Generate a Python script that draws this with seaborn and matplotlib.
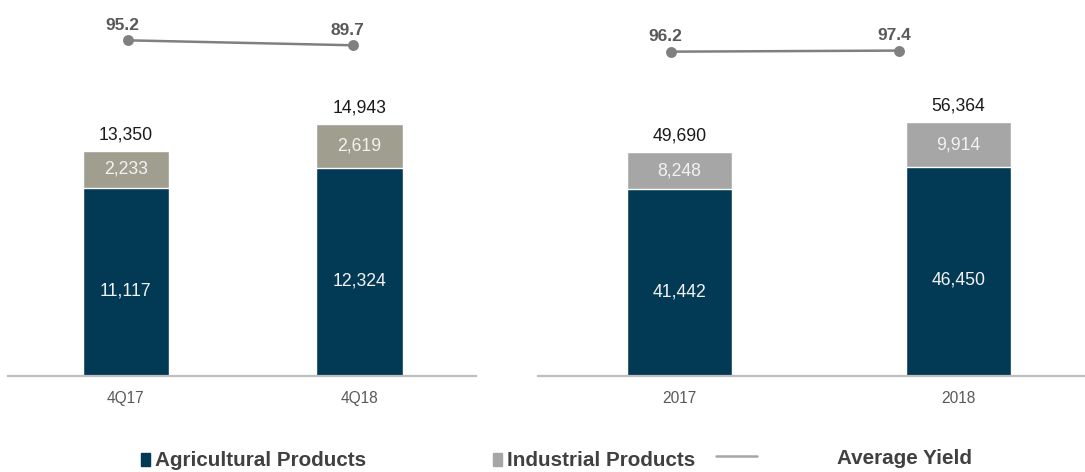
import matplotlib
matplotlib.use("Agg")
import matplotlib.pyplot as plt
import seaborn as sns
import pandas as pd
from matplotlib.patches import Patch
from matplotlib.lines import Line2D

sns.set_theme(style="white")
plt.rcParams['font.family'] = ['Liberation Sans', 'DejaVu Sans']

# ---- data ----
quarters = ["4Q17", "4Q18"]
quarter_agri = [11117, 12324]
quarter_ind = [2233, 2619]
quarter_yield = [95.2, 89.7]

years = ["2017", "2018"]
year_agri = [41442, 46450]
year_ind = [8248, 9914]
year_yield = [96.2, 97.4]

AGRI = "#023a55"
IND_L = "#a09e8f"
IND_R = "#a6a6a6"
LINE_C = "#808080"
TXT = "#595959"

W, H = 1085, 472
fig = plt.figure(figsize=(W / 100, H / 100), dpi=100)


def fx(px):
    return px / W


def fy(px):
    return 1 - px / H


def panel(bar_rect, xlim, ylim_top, cats, agri, ind, ind_color, width,
          line_rect, yl, ylim_line):
    ax = fig.add_axes(bar_rect)
    totals = [a + b for a, b in zip(agri, ind)]
    df = pd.DataFrame({"cat": cats, "agri": agri, "total": totals, "ind": ind})
    sns.barplot(data=df, x="cat", y="total", color=ind_color, width=width,
                saturation=1, ax=ax, order=cats)
    sns.barplot(data=df, x="cat", y="agri", color=AGRI, width=width,
                saturation=1, ax=ax, order=cats)
    ax.set_xlim(*xlim)
    ax.set_ylim(0, ylim_top)
    ax.set_xlabel("")
    ax.set_ylabel("")
    ax.set_yticks([])
    for s in ["left", "right", "top"]:
        ax.spines[s].set_visible(False)
    ax.spines["bottom"].set_color("#bfbfbf")
    ax.spines["bottom"].set_linewidth(1.6)
    ax.tick_params(axis="x", length=0, pad=11, labelsize=11.2, labelcolor=TXT)
    ax.patch.set_alpha(0)
    for i, (a, b, t) in enumerate(zip(agri, ind, totals)):
        ax.annotate(f"{t:,}", (i, t), xytext=(0, 16), textcoords="offset pixels",
                    ha="center", va="center", fontsize=12.7, color="#1a1a1a")
        ax.annotate(f"{b:,}", (i, a + b / 2), xytext=(0, 0), textcoords="offset pixels",
                    ha="center", va="center", fontsize=12.7, color="#f2f2f2")
        ax.annotate(f"{a:,}", (i, a / 2), xytext=(0, -9), textcoords="offset pixels",
                    ha="center", va="center", fontsize=12.7, color="#f2f2f2")

    lax = fig.add_axes(line_rect)
    ldf = pd.DataFrame({"cat": cats, "y": yl})
    sns.pointplot(data=ldf, x="cat", y="y", order=cats, color=LINE_C, ax=lax,
                  markers="o", markersize=6.5, linewidth=1.8)
    lax.set_xlim(-0.5, 1.5)
    lax.set_ylim(*ylim_line)
    lax.axis("off")
    lax.patch.set_alpha(0)
    for i, v in enumerate(yl):
        lax.annotate(f"{v}", (i, v), xytext=(-5, 15), textcoords="offset pixels",
                     ha="center", va="center", fontsize=12.5, fontweight="bold",
                     color=TXT)


# left panel
panel([fx(8.3), fy(376), fx(476 - 8.3), 376 / H], (-0.504, 1.50), 22275,
      quarters, quarter_agri, quarter_ind, IND_L, 0.371,
      [fx(15.2), fy(100), fx(450), 100 / H], quarter_yield, (28.9, 140.0))

# right panel
panel([fx(538), fy(376), fx(1085 - 538), 376 / H], (-0.506, 1.453), 83518,
      years, year_agri, year_ind, IND_R, 0.376,
      [fx(556.5), fy(100), fx(456.6), 100 / H], year_yield, (42.5, 153.6))

# legends
leg_kw = dict(frameon=False, borderpad=0, borderaxespad=0, loc="center left",
              prop={"size": 14.9, "weight": "bold"}, labelcolor="#404040")
l1 = fig.legend(handles=[Patch(color=AGRI)], labels=["Agricultural Products"],
                bbox_to_anchor=(fx(141), fy(461)), handlelength=0.45,
                handleheight=0.6, handletextpad=0.25, **leg_kw)
l2 = fig.legend(handles=[Patch(color=IND_R)], labels=["Industrial Products"],
                bbox_to_anchor=(fx(493), fy(461)), handlelength=0.45,
                handleheight=0.6, handletextpad=0.25, **leg_kw)
l3 = fig.legend(handles=[Line2D([], [], color="#a6a6a6", lw=1.8)],
                labels=["Average Yield"],
                bbox_to_anchor=(fx(716), fy(458)), handlelength=2.0,
                handletextpad=3.85, **leg_kw)

fig.savefig("out.png", dpi=100)
